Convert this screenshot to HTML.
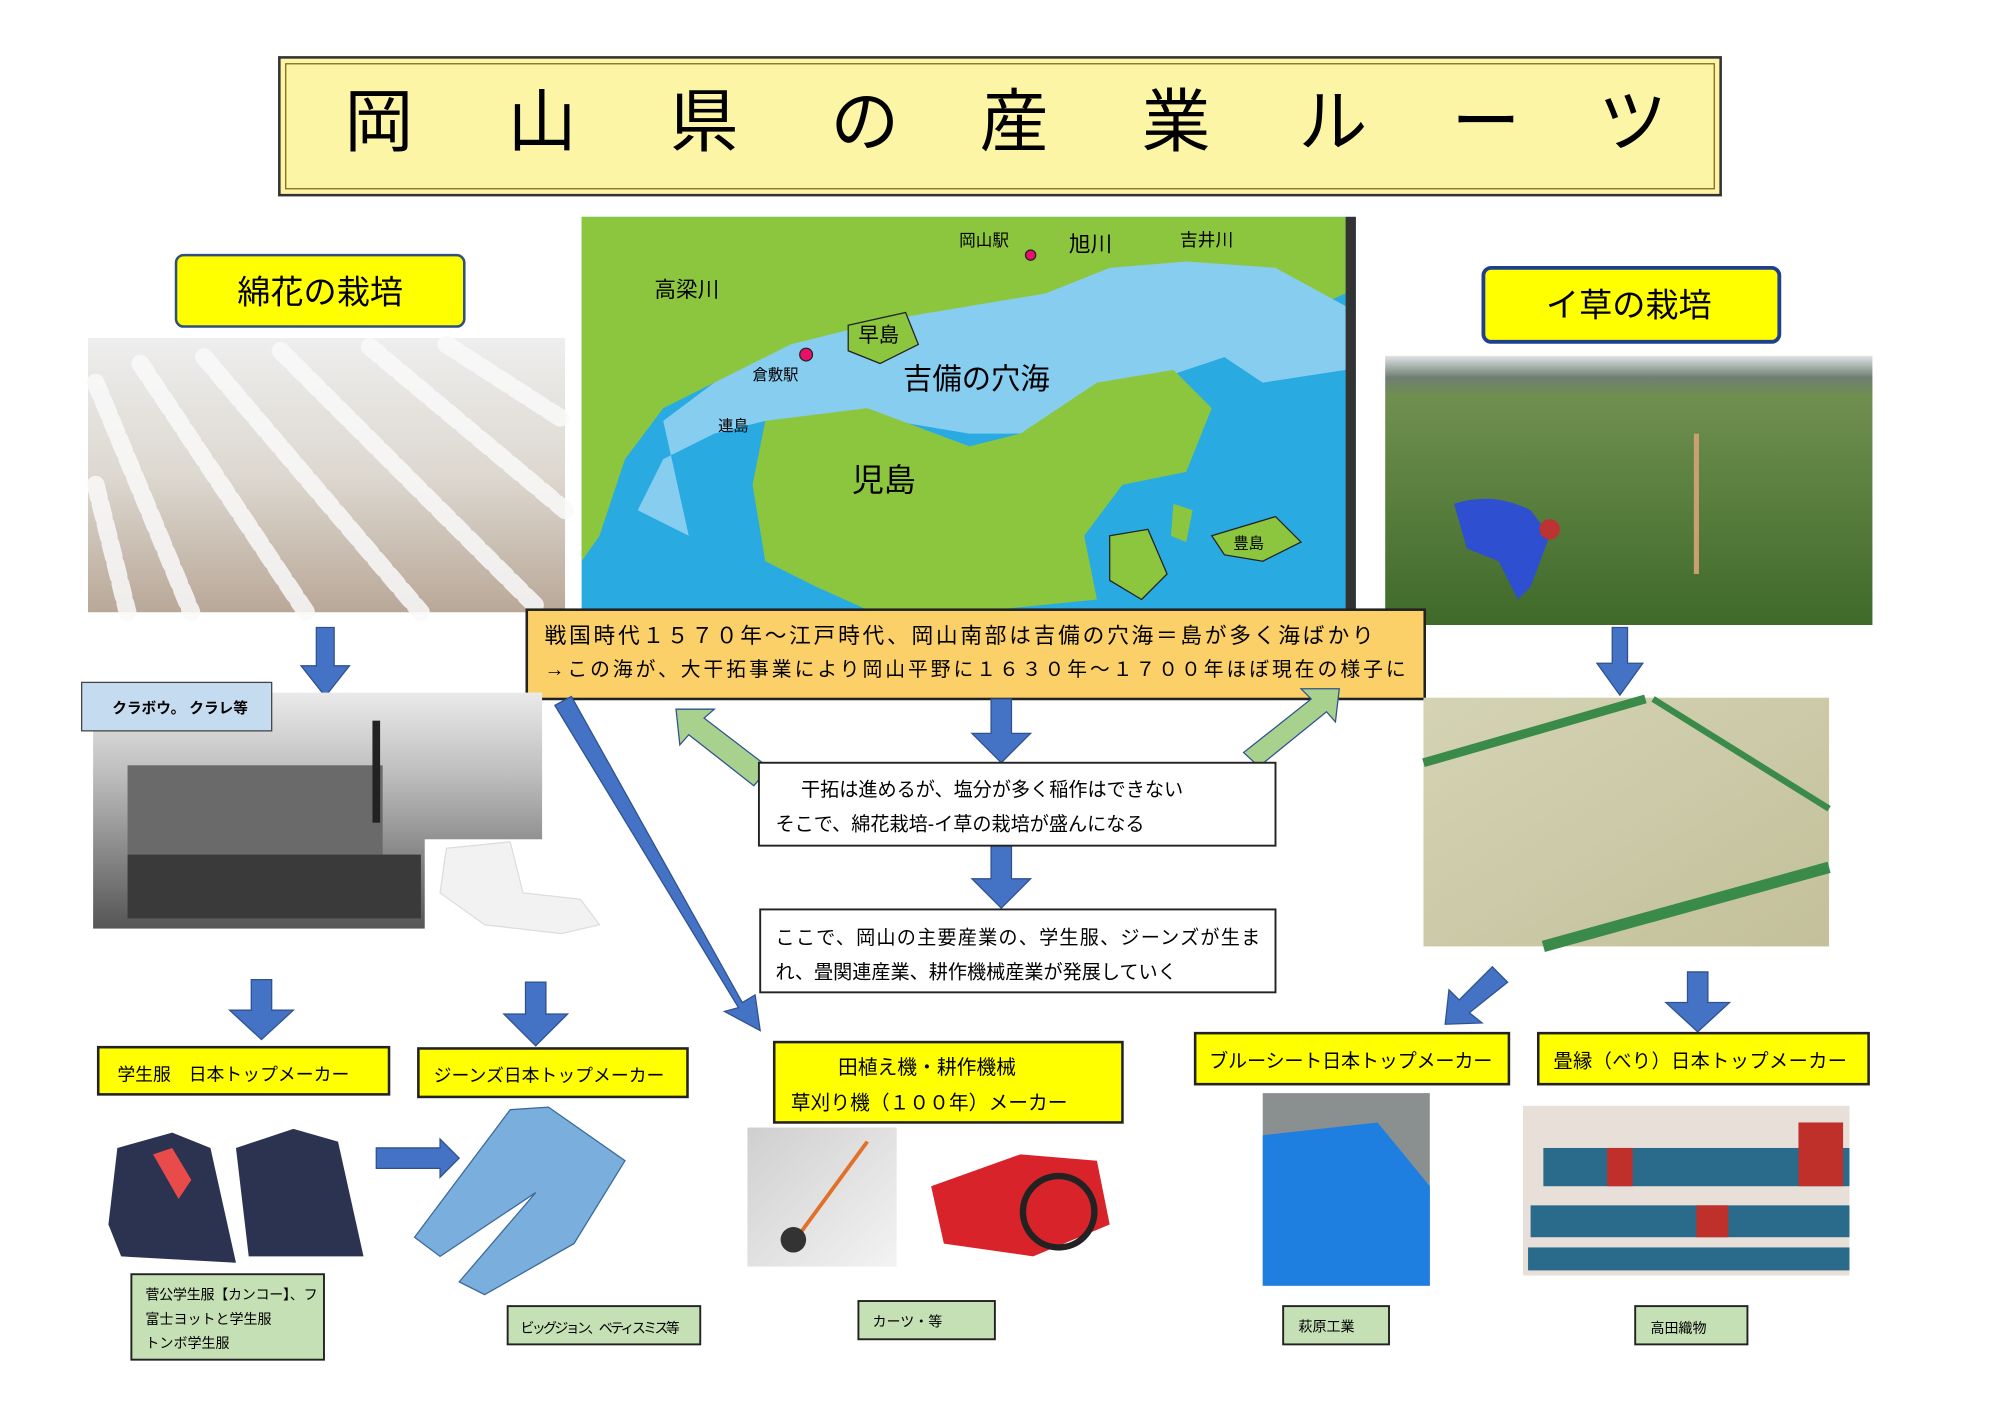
<!DOCTYPE html>
<html><head><meta charset="utf-8"><style>
html,body{margin:0;padding:0;background:#fff;width:2000px;height:1412px;overflow:hidden}
svg{display:block}
text{font-family:"Liberation Sans","Noto Sans CJK JP",sans-serif;fill:#000}
</style></head><body>
<svg width="2000" height="1412" viewBox="0 0 2000 1412" xmlns="http://www.w3.org/2000/svg">
<defs>
<linearGradient id="cot" x1="0" y1="0" x2="0" y2="1"><stop offset="0" stop-color="#eeeeee"/><stop offset="0.5" stop-color="#ddd8d0"/><stop offset="1" stop-color="#b9a898"/></linearGradient>
<linearGradient id="grass" x1="0" y1="0" x2="0" y2="1"><stop offset="0" stop-color="#dfe4e6"/><stop offset="0.08" stop-color="#6f7f72"/><stop offset="0.15" stop-color="#6f8f4f"/><stop offset="1" stop-color="#3f6a2a"/></linearGradient>
<linearGradient id="tat" x1="0" y1="0" x2="1" y2="1"><stop offset="0" stop-color="#d4d3b4"/><stop offset="1" stop-color="#c3c09a"/></linearGradient>
<linearGradient id="fac" x1="0" y1="0" x2="0" y2="1"><stop offset="0" stop-color="#eaeaea"/><stop offset="0.35" stop-color="#bdbdbd"/><stop offset="1" stop-color="#555"/></linearGradient>
<linearGradient id="cut" x1="0" y1="0" x2="1" y2="1"><stop offset="0" stop-color="#cfcfcf"/><stop offset="1" stop-color="#f3f3f3"/></linearGradient>
</defs>
<g transform="scale(1.2755)">
<rect x="219" y="45" width="1130" height="108" fill="#fdf5a6" stroke="#333" stroke-width="2"/>
<rect x="224" y="50" width="1120" height="98" fill="none" stroke="#7a6a20" stroke-width="1"/>
<g font-size="54">
<text x="270" y="114">岡</text><text x="398" y="114">山</text><text x="525" y="114">県</text><text x="651" y="114">の</text><text x="768" y="114">産</text><text x="895" y="114">業</text><text x="1018" y="114">ル</text><text x="1138" y="114">ー</text><text x="1253" y="114">ツ</text>
</g>
<rect x="138" y="200" width="226" height="56" rx="6" fill="#ffff00" stroke="#2f4f7f" stroke-width="2"/>
<text x="251" y="238" font-size="26" text-anchor="middle">綿花の栽培</text>
<rect x="69" y="265" width="374" height="215" fill="url(#cot)"/>
<g stroke="#fafafa" stroke-width="14" stroke-linecap="round" opacity="0.85" stroke-dasharray="10 6">
<path d="M75 300 L150 480"/><path d="M110 285 L240 480"/><path d="M160 280 L330 480"/><path d="M220 275 L420 475"/><path d="M290 272 L443 400"/><path d="M75 380 L100 480"/><path d="M350 270 L443 330"/>
</g>
<rect x="456" y="170" width="607" height="308" fill="#29abe2"/>
<path d="M456 170 H1055 V230 L1010 250 L960 270 L930 280 L880 300 L860 280 L820 290 L780 300 L720 290 L650 280 L600 285 L560 300 L520 320 L490 360 L470 420 L456 440 Z" fill="#8cc63f"/>
<path d="M560 300 L620 270 L700 250 L760 240 L820 230 L870 210 L930 205 L1000 210 L1055 240 L1055 290 L990 300 L960 280 L900 300 L860 330 L820 340 L760 340 L700 330 L650 340 L600 330 L560 340 L520 360 L500 400 L540 420 L520 330 Z" fill="#87cdf0"/>
<path d="M600 330 L680 320 L760 350 L800 340 L860 300 L920 290 L950 320 L930 370 L880 380 L850 420 L860 470 L780 478 L680 478 L640 460 L600 440 L590 380 Z" fill="#8cc63f"/>
<path d="M665 255 L710 245 L720 270 L690 285 L665 275 Z" fill="#8cc63f" stroke="#222"/>
<path d="M950 420 L1000 405 L1020 425 L990 440 L960 435 Z" fill="#8cc63f" stroke="#222"/>
<path d="M870 420 L900 415 L915 450 L895 470 L870 455 Z" fill="#8cc63f" stroke="#222"/>
<path d="M920 395 L935 400 L930 425 L918 420 Z" fill="#8cc63f"/>
<rect x="1055" y="170" width="8" height="308" fill="#333"/>
<circle cx="632" cy="278" r="5" fill="#e8106a" stroke="#222"/><circle cx="808" cy="200" r="4" fill="#e8106a" stroke="#222"/>
<g font-size="17" fill="#222"><text x="513" y="233">高梁川</text><text x="752" y="193" font-size="13">岡山駅</text><text x="838" y="197">旭川</text><text x="925" y="193" font-size="14">吉井川</text><text x="673" y="268" font-size="16">早島</text><text x="668" y="385" font-size="25">児島</text><text x="563" y="338" font-size="12">連島</text><text x="590" y="298" font-size="12">倉敷駅</text><text x="967" y="430" font-size="12">豊島</text></g>
<text x="708" y="305" font-size="23" fill="#c9e6f5">吉備の穴海</text>
<rect x="1163" y="210" width="232" height="58" rx="6" fill="#ffff00" stroke="#1f3f8f" stroke-width="3"/>
<text x="1277" y="248" font-size="26" text-anchor="middle">イ草の栽培</text>
<rect x="1086" y="279" width="382" height="211" fill="url(#grass)"/>
<path d="M1140 395 Q1170 385 1200 400 L1215 420 L1200 460 L1190 470 L1175 440 L1150 430 Z" fill="#2d4fd0"/>
<circle cx="1215" cy="415" r="8" fill="#b33"/>
<rect x="1328" y="340" width="4" height="110" fill="#c9a070"/>
<rect x="413" y="478" width="704" height="70" fill="#fcd068" stroke="#222" stroke-width="2"/>
<text x="427" y="504" font-size="17" textLength="650">戦国時代１５７０年～江戸時代、岡山南部は吉備の穴海＝島が多く海ばかり</text>
<text x="427" y="530" font-size="15.5" textLength="675">→この海が、大干拓事業により岡山平野に１６３０年～１７００年ほぼ現在の様子に</text>
<polygon points="248,492 262,492 262,522 274,522 255,546 236,522 248,522" fill="#4472c4" stroke="#2f528f"/>
<rect x="73" y="543" width="352" height="185" fill="url(#fac)"/>
<rect x="100" y="600" width="200" height="70" fill="#6a6a6a"/><rect x="100" y="670" width="230" height="50" fill="#3a3a3a"/>
<rect x="292" y="565" width="6" height="80" fill="#222"/>
<rect x="64" y="535" width="149" height="38" fill="#c5dbef" stroke="#444"/>
<text x="88" y="559" font-size="11.5" font-weight="bold">クラボウ。 クラレ等</text>
<rect x="333" y="658" width="145" height="77" fill="#fff"/>
<path d="M350 665 L400 660 L410 700 L455 705 L470 725 L440 732 L380 725 L345 700 Z" fill="#f2f2f2" stroke="#ddd"/>
<rect x="1116" y="547" width="318" height="195" fill="url(#tat)"/>
<path d="M1116 598 L1290 548" stroke="#3a8a4a" stroke-width="7"/>
<path d="M1296 548 L1434 634" stroke="#3a8a4a" stroke-width="5"/>
<path d="M1434 680 L1210 742" stroke="#3a8a4a" stroke-width="9"/>
<polygon points="1264,492 1276,492 1276,520 1288,520 1270,545 1252,520 1264,520" fill="#4472c4" stroke="#2f528f"/>
<polygon points="530,556 560,556 552,563 603,602 591,616 540,576 533,584" fill="#a9d18e" stroke="#2f528f"/>
<polygon points="1050,540 1020,540 1028,548 975,590 987,601 1040,558 1047,566" fill="#a9d18e" stroke="#2f528f"/>
<polygon points="777,548 793,548 793,575 808,575 785,598 762,575 777,575" fill="#4472c4" stroke="#2f528f"/>
<polygon points="777,663 793,663 793,689 808,689 785,712 762,689 777,689" fill="#4472c4" stroke="#2f528f"/>
<rect x="595" y="598" width="405" height="65" fill="#fff" stroke="#222" stroke-width="1.5"/>
<text x="628" y="624" font-size="15">干拓は進めるが、塩分が多く稲作はできない</text>
<text x="608" y="651" font-size="15">そこで、綿花栽培-イ草の栽培が盛んになる</text>
<rect x="596" y="713" width="404" height="65" fill="#fff" stroke="#222" stroke-width="1.5"/>
<text x="608" y="740" font-size="15" textLength="380">ここで、岡山の主要産業の、学生服、ジーンズが生ま</text>
<text x="608" y="767" font-size="15">れ、畳関連産業、耕作機械産業が発展していく</text>
<polygon points="435,553 448,546 582,786 592,780 596,808 568,793 579,790" fill="#4472c4" stroke="#2f528f"/>
<polygon points="197,768 213,768 213,792 230,792 205,815 180,792 197,792" fill="#4472c4" stroke="#2f528f"/>
<polygon points="412,770 428,770 428,795 445,795 420,820 395,795 412,795" fill="#4472c4" stroke="#2f528f"/>
<rect x="77" y="821" width="228" height="37" fill="#ffff00" stroke="#222" stroke-width="2"/>
<text x="92" y="847" font-size="14">学生服　日本トップメーカー</text>
<rect x="328" y="822" width="211" height="38" fill="#ffff00" stroke="#222" stroke-width="2"/>
<text x="340" y="848" font-size="14">ジーンズ日本トップメーカー</text>
<rect x="607" y="817" width="273" height="63" fill="#ffff00" stroke="#222" stroke-width="2"/>
<text x="657" y="842" font-size="15.5">田植え機・耕作機械</text>
<text x="620" y="870" font-size="15.5">草刈り機（１００年）メーカー</text>
<path d="M92 900 L135 888 L165 900 L185 990 L95 985 L85 960 Z" fill="#2b3350"/>
<path d="M120 905 L140 940 L150 925 L135 900 Z" fill="#e94a4a"/>
<path d="M185 900 L230 885 L265 895 L285 985 L195 985 Z" fill="#2b3350"/>
<polygon points="295,900 345,900 345,893 360,908 345,923 345,916 295,916" fill="#4472c4" stroke="#2f528f"/>
<path d="M400 870 L430 868 L490 910 L450 975 L380 1015 L360 1005 L420 935 L345 985 L325 970 Z" fill="#7aaedc" stroke="#3b6a9a"/>
<rect x="586" y="884" width="117" height="109" fill="url(#cut)"/>
<line x1="680" y1="895" x2="625" y2="970" stroke="#e0702a" stroke-width="3"/>
<circle cx="622" cy="972" r="10" fill="#333"/>
<path d="M730 930 L800 905 L860 910 L870 960 L810 985 L740 975 Z" fill="#d8232a"/>
<circle cx="830" cy="950" r="28" fill="none" stroke="#222" stroke-width="5"/>
<polygon points="1170,758 1182,770 1152,794 1162,802 1133,803 1136,776 1144,784" fill="#4472c4" stroke="#2f528f"/>
<polygon points="1323,762 1339,762 1339,786 1356,786 1331,809 1306,786 1323,786" fill="#4472c4" stroke="#2f528f"/>
<rect x="937" y="810" width="246" height="40" fill="#ffff00" stroke="#222" stroke-width="2"/>
<text x="948" y="837" font-size="15" textLength="222">ブルーシート日本トップメーカー</text>
<rect x="1206" y="810" width="259" height="40" fill="#ffff00" stroke="#222" stroke-width="2"/>
<text x="1218" y="837" font-size="15" textLength="230">畳縁（べり）日本トップメーカー</text>
<rect x="990" y="857" width="131" height="151" fill="#8a9090"/>
<path d="M990 890 L1080 880 L1121 930 L1121 1008 L990 1008 Z" fill="#1f7fe0"/>
<rect x="1194" y="867" width="256" height="133" fill="#e8e0d8"/>
<g fill="#2a6a8a"><rect x="1210" y="900" width="240" height="30"/><rect x="1200" y="945" width="250" height="25"/><rect x="1198" y="978" width="252" height="18"/></g>
<g fill="#c0302a"><rect x="1260" y="900" width="20" height="30"/><rect x="1330" y="945" width="25" height="25"/><rect x="1410" y="880" width="35" height="50"/></g>
<g fill="#c5e0b4" stroke="#222" stroke-width="1.5">
<rect x="103" y="999" width="151" height="67"/><rect x="398" y="1024" width="151" height="30"/><rect x="673" y="1020" width="107" height="30"/><rect x="1006" y="1024" width="83" height="30"/><rect x="1282" y="1024" width="88" height="30"/>
</g>
<g font-size="11">
<text x="114" y="1019" textLength="135">菅公学生服【カンコー】、フ</text><text x="114" y="1038">富士ヨットと学生服</text><text x="114" y="1057">トンボ学生服</text>
<text x="408" y="1045" textLength="125">ビッグジョン、ベティスミス等</text>
<text x="684" y="1040">カーツ・等</text>
<text x="1018" y="1044">萩原工業</text>
<text x="1294" y="1045">高田織物</text>
</g>
</g>
</svg>
</body></html>
